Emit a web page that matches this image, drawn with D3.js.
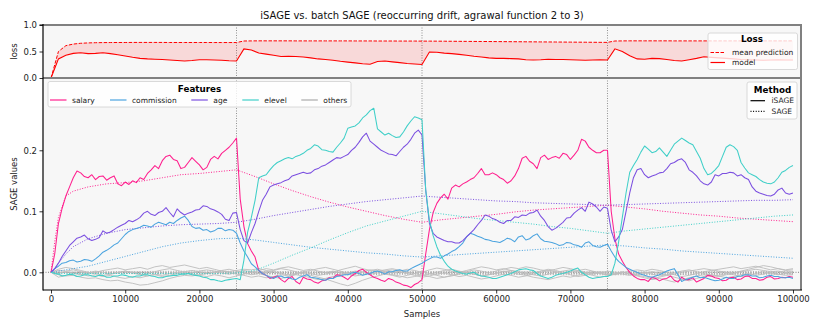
<!DOCTYPE html>
<html><head><meta charset="utf-8">
<script src="https://cdn.jsdelivr.net/npm/d3@7"></script>
<style>body{margin:0;background:#fff} svg{display:block} text{font-family:"DejaVu Sans",sans-serif}</style>
</head><body><svg id="c" width="822" height="329"></svg>
<script>
// ---------- DATA ----------
const samples = d3.range(0, 100001, 1000);      // loss + "others" grid
const samplesFine = d3.range(0, 100001, 500);   // iSAGE feature grid
const drifts = [25000, 50000, 75000];
const xTicks = [0,10000,20000,30000,40000,50000,60000,70000,80000,90000,100000];
const lossTicks = [0, 0.5, 1.0];
const sageTicks = [0, 0.1, 0.2];
const featureNames = ["salary","commission","age","elevel","others"];
const featureColors = ["#ff1f8e","#4aa3df","#7b4fe0","#3fcfc8","#a9a9a9"];

const lossMean = [
 0,0.5,0.61,0.64,0.655,0.662,0.666,0.668,0.669,0.67,
 0.67,0.671,0.671,0.671,0.671,0.671,0.67,0.67,0.67,0.67,
 0.67,0.67,0.669,0.669,0.669,0.669,0.698,0.7,0.701,0.701,
 0.701,0.701,0.701,0.7,0.7,0.7,0.7,0.7,0.7,0.7,
 0.7,0.699,0.699,0.699,0.698,0.698,0.698,0.697,0.697,0.697,
 0.696,0.696,0.695,0.694,0.693,0.692,0.691,0.69,0.689,0.688,
 0.687,0.686,0.685,0.684,0.683,0.682,0.681,0.68,0.679,0.678,
 0.677,0.676,0.675,0.674,0.673,0.672,0.698,0.7,0.701,0.701,
 0.701,0.701,0.701,0.701,0.7,0.7,0.7,0.7,0.7,0.7,
 0.7,0.7,0.7,0.7,0.7,0.7,0.7,0.7,0.7,0.7,
 0.7];
const lossModel = [
 0,0.36,0.43,0.465,0.475,0.46,0.465,0.475,0.46,0.44,
 0.415,0.39,0.37,0.36,0.355,0.35,0.34,0.33,0.32,0.33,
 0.345,0.345,0.34,0.335,0.325,0.32,0.55,0.53,0.47,0.45,
 0.43,0.405,0.41,0.405,0.395,0.38,0.36,0.35,0.335,0.315,
 0.3,0.285,0.27,0.26,0.31,0.32,0.305,0.29,0.275,0.265,
 0.255,0.49,0.485,0.47,0.46,0.445,0.43,0.41,0.395,0.38,
 0.37,0.37,0.365,0.36,0.345,0.34,0.345,0.355,0.35,0.35,
 0.345,0.34,0.335,0.34,0.345,0.34,0.55,0.5,0.42,0.36,
 0.355,0.37,0.365,0.35,0.33,0.32,0.345,0.37,0.4,0.39,
 0.38,0.37,0.36,0.35,0.345,0.34,0.335,0.34,0.345,0.34,
 0.34];

// iSAGE values, every 500 samples (rows of 20 = 10000 samples)
const salary = [
 0,0.03,0.08,0.105,0.125,0.14,0.155,0.166,0.163,0.157,0.155,0.16,0.152,0.157,0.158,0.151,0.155,0.158,0.145,0.142,
 0.148,0.144,0.15,0.147,0.155,0.152,0.162,0.168,0.175,0.17,0.183,0.19,0.192,0.185,0.183,0.17,0.172,0.18,0.188,0.182,
 0.176,0.168,0.172,0.185,0.19,0.186,0.195,0.2,0.205,0.212,0.22,0.12,0.075,0.047,0.035,0.025,0.003,-0.002,-0.005,-0.01,
 -0.008,-0.006,-0.012,-0.016,-0.01,-0.007,-0.015,-0.019,-0.008,-0.011,-0.012,-0.016,-0.018,-0.014,-0.013,-0.009,-0.01,-0.004,-0.005,-0.008,
 -0.012,-0.006,-0.002,0.003,0.005,0.0,-0.004,-0.008,-0.01,-0.013,-0.015,-0.01,-0.012,-0.016,-0.018,-0.021,-0.022,-0.025,-0.02,-0.017,
 -0.012,0.03,0.07,0.098,0.113,0.122,0.128,0.12,0.138,0.143,0.14,0.145,0.148,0.152,0.155,0.162,0.17,0.16,0.16,0.163,
 0.16,0.155,0.152,0.146,0.15,0.158,0.17,0.187,0.19,0.182,0.178,0.17,0.188,0.192,0.185,0.188,0.19,0.187,0.195,0.193,
 0.185,0.192,0.2,0.218,0.215,0.205,0.2,0.196,0.196,0.2,0.2,0.1,0.055,0.03,0.018,0.008,0.0,-0.006,-0.01,-0.012,
 -0.012,-0.015,-0.008,-0.01,-0.014,-0.011,-0.01,-0.006,-0.013,-0.016,-0.008,-0.012,-0.012,-0.009,-0.016,-0.013,-0.01,-0.005,-0.006,-0.009,
 -0.01,-0.014,-0.013,-0.009,-0.008,-0.012,-0.011,-0.007,-0.006,-0.01,-0.01,-0.013,-0.012,-0.008,-0.007,-0.011,-0.01,-0.008,-0.009,-0.007,
 -0.008];
const commission = [
 0,0.006,0.01,0.015,0.016,0.019,0.02,0.017,0.018,0.021,0.02,0.018,0.022,0.027,0.033,0.036,0.04,0.045,0.048,0.055,
 0.062,0.067,0.07,0.072,0.074,0.077,0.076,0.074,0.079,0.082,0.08,0.078,0.082,0.08,0.085,0.089,0.092,0.085,0.075,0.072,
 0.073,0.069,0.07,0.066,0.068,0.072,0.072,0.068,0.07,0.069,0.064,0.048,0.035,0.025,0.014,0.009,0.003,-0.002,-0.005,-0.008,
 -0.01,-0.007,-0.006,-0.009,-0.008,-0.011,-0.012,-0.008,-0.006,-0.004,-0.008,-0.009,-0.01,-0.012,-0.013,-0.01,-0.01,-0.007,-0.006,-0.004,
 -0.004,-0.001,0.0,-0.002,-0.005,-0.003,-0.002,0.001,0.002,0.0,-0.003,0.001,0.001,0.003,0.004,0.002,0.002,0.006,0.009,0.012,
 0.015,0.019,0.022,0.025,0.025,0.023,0.027,0.03,0.034,0.037,0.042,0.048,0.058,0.064,0.062,0.059,0.057,0.054,0.053,0.051,
 0.05,0.049,0.052,0.056,0.054,0.05,0.058,0.06,0.053,0.055,0.06,0.063,0.055,0.051,0.05,0.049,0.047,0.044,0.045,0.049,
 0.048,0.045,0.044,0.041,0.048,0.05,0.044,0.042,0.041,0.044,0.046,0.035,0.025,0.018,0.013,0.008,0.005,0.002,0.0,-0.003,
 -0.005,-0.007,-0.008,-0.006,-0.004,-0.001,0.002,0.004,0.006,-0.004,-0.015,-0.012,-0.01,-0.008,-0.006,-0.009,-0.008,-0.01,-0.012,-0.014,
 -0.013,-0.011,-0.008,-0.01,-0.01,-0.007,-0.006,-0.004,-0.004,-0.006,-0.006,-0.009,-0.008,-0.006,-0.005,-0.007,-0.007,-0.009,-0.009,-0.008,
 -0.01];
const age = [
 0,0.006,0.015,0.026,0.035,0.044,0.05,0.056,0.058,0.061,0.055,0.052,0.054,0.057,0.068,0.064,0.066,0.07,0.074,0.077,
 0.08,0.085,0.083,0.086,0.09,0.097,0.1,0.095,0.093,0.098,0.1,0.106,0.098,0.091,0.104,0.098,0.094,0.097,0.099,0.102,
 0.103,0.109,0.108,0.104,0.102,0.099,0.095,0.087,0.085,0.097,0.098,0.07,0.052,0.048,0.065,0.08,0.1,0.118,0.128,0.14,
 0.143,0.145,0.147,0.15,0.152,0.158,0.16,0.162,0.164,0.162,0.163,0.168,0.17,0.174,0.176,0.18,0.184,0.188,0.187,0.19,
 0.193,0.2,0.205,0.213,0.222,0.228,0.215,0.21,0.205,0.2,0.197,0.194,0.193,0.191,0.198,0.205,0.21,0.218,0.228,0.233,
 0.225,0.135,0.08,0.064,0.058,0.055,0.052,0.05,0.05,0.048,0.048,0.052,0.058,0.064,0.07,0.078,0.085,0.094,0.092,0.088,
 0.086,0.082,0.08,0.085,0.085,0.091,0.09,0.094,0.093,0.097,0.098,0.102,0.092,0.085,0.075,0.069,0.072,0.077,0.082,0.089,
 0.09,0.097,0.102,0.106,0.1,0.115,0.112,0.107,0.1,0.107,0.105,0.069,0.05,0.058,0.07,0.1,0.13,0.155,0.168,0.17,
 0.16,0.155,0.158,0.16,0.163,0.164,0.17,0.178,0.18,0.184,0.186,0.18,0.168,0.164,0.158,0.15,0.145,0.143,0.148,0.16,
 0.158,0.162,0.162,0.164,0.163,0.158,0.16,0.155,0.152,0.14,0.133,0.13,0.128,0.126,0.125,0.128,0.135,0.138,0.13,0.128,
 0.13];
const elevel = [
 0,-0.002,-0.003,-0.006,-0.005,-0.003,-0.004,-0.007,-0.006,-0.004,-0.004,-0.006,-0.007,-0.005,-0.005,-0.008,-0.008,-0.006,-0.006,-0.004,
 -0.005,-0.007,-0.008,-0.006,-0.006,-0.004,-0.004,-0.006,-0.007,-0.009,-0.009,-0.007,-0.006,-0.005,-0.005,-0.003,-0.003,-0.002,-0.004,-0.005,
 -0.006,-0.008,-0.009,-0.012,-0.012,-0.014,-0.015,-0.013,-0.012,-0.011,-0.01,-0.012,0.02,0.066,0.09,0.118,0.155,0.158,0.16,0.168,
 0.175,0.18,0.183,0.186,0.188,0.186,0.19,0.192,0.195,0.2,0.203,0.209,0.207,0.201,0.2,0.198,0.197,0.205,0.212,0.22,
 0.236,0.238,0.24,0.245,0.253,0.258,0.265,0.269,0.235,0.23,0.225,0.228,0.224,0.221,0.222,0.23,0.24,0.248,0.255,0.253,
 0.25,0.135,0.085,0.06,0.042,0.028,0.018,0.01,0.005,0.002,0.0,-0.002,-0.003,-0.001,0.0,-0.004,-0.006,-0.007,-0.008,-0.01,
 -0.01,-0.008,-0.006,-0.004,-0.002,0.001,0.004,0.005,0.006,0.004,0.003,-0.002,-0.006,-0.008,-0.01,-0.008,-0.005,-0.003,-0.002,0.0,
 0.002,0.005,0.007,0.0,-0.004,-0.008,-0.01,-0.009,-0.008,-0.007,-0.007,-0.004,0.015,0.05,0.09,0.13,0.164,0.175,0.185,0.197,
 0.207,0.202,0.196,0.198,0.204,0.197,0.19,0.2,0.21,0.215,0.22,0.216,0.212,0.209,0.198,0.187,0.17,0.16,0.162,0.168,
 0.175,0.19,0.205,0.209,0.206,0.2,0.18,0.171,0.163,0.16,0.157,0.152,0.148,0.146,0.145,0.148,0.155,0.164,0.167,0.172,
 0.175];
const other1 = [
 0,-0.004,-0.006,-0.005,-0.008,-0.01,-0.009,-0.012,-0.014,-0.013,
 -0.016,-0.018,-0.021,-0.02,-0.017,-0.014,-0.01,-0.007,-0.005,-0.006,
 -0.004,-0.002,0.0,0.002,0.001,0.003,0.005,0.004,0.006,0.003,
 0.001,-0.002,-0.004,-0.002,0.001,0.003,0.006,0.008,0.005,0.002,
 -0.003,-0.006,-0.004,-0.001,0.002,0.004,0.006,0.003,0.0,-0.002,
 -0.005,-0.003,0.0,0.003,0.005,0.002,-0.001,-0.003,-0.006,-0.004,
 -0.002,0.001,0.003,0.001,-0.002,-0.004,-0.006,-0.003,0.0,0.002,
 0.004,0.001,-0.002,-0.005,-0.008,-0.006,-0.003,0.0,-0.002,-0.005,
 -0.007,-0.01,-0.008,-0.005,-0.003,0.0,0.002,0.004,0.006,0.004,
 0.002,0.0,-0.002,0.001,0.003,0.005,0.003,0.001,0.002,0.0,
 0.001];
const other2 = [
 0,0.003,0.002,0.004,0.001,-0.002,0.0,0.003,0.005,0.007,
 0.004,0.006,0.008,0.005,0.009,0.011,0.008,0.01,0.012,0.009,
 0.006,0.008,0.005,0.002,0.0,-0.003,-0.005,-0.008,-0.006,-0.009,
 -0.007,-0.004,-0.006,-0.003,0.0,-0.002,-0.005,-0.003,0.0,0.004,
 0.007,0.01,0.006,0.003,0.005,0.002,-0.001,0.002,0.005,0.003,
 0.0,0.004,0.007,0.005,0.002,0.0,0.003,0.006,0.009,0.007,
 0.004,0.006,0.003,0.0,-0.003,-0.001,0.002,0.005,0.003,0.0,
 -0.004,-0.007,-0.005,-0.002,0.001,-0.002,-0.004,-0.001,0.002,0.004,
 0.002,0.005,0.003,0.0,-0.004,-0.007,-0.005,-0.002,0.001,0.003,
 0.005,0.007,0.009,0.006,0.008,0.01,0.007,0.004,0.006,0.003,
 0.004];
const other3 = [
 0,-0.008,-0.005,-0.002,-0.004,-0.001,0.002,0.0,-0.003,-0.001,
 0.002,0.0,-0.003,-0.006,-0.004,-0.007,-0.005,-0.002,0.001,0.003,
 0.001,-0.002,0.0,0.003,0.005,0.002,-0.001,-0.004,-0.002,0.001,
 0.003,0.006,0.004,0.001,-0.002,-0.005,-0.008,-0.011,-0.015,-0.019,
 -0.022,-0.018,-0.013,-0.009,-0.006,-0.003,-0.005,-0.008,-0.005,-0.002,
 0.001,-0.002,-0.005,-0.008,-0.006,-0.003,0.0,-0.003,-0.006,-0.004,
 -0.001,0.002,0.0,-0.003,-0.005,-0.008,-0.01,-0.012,-0.009,-0.006,
 -0.008,-0.005,-0.002,0.001,-0.002,-0.005,-0.003,0.0,-0.003,-0.006,
 -0.009,-0.012,-0.01,-0.013,-0.016,-0.012,-0.009,-0.006,-0.004,-0.007,
 -0.005,-0.002,-0.004,-0.007,-0.005,-0.002,0.001,-0.002,-0.004,-0.002,
 -0.003];
const other4 = [
 0,0.005,0.008,0.006,0.003,0.0,-0.002,-0.005,-0.003,0.0,
 0.002,-0.001,-0.004,-0.002,0.001,0.004,0.006,0.003,0.0,-0.003,
 -0.005,-0.007,-0.004,-0.006,-0.009,-0.006,-0.003,0.0,0.003,0.006,
 0.004,0.007,0.009,0.006,0.003,0.005,0.002,-0.001,0.002,-0.001,
 -0.004,-0.002,0.001,0.004,0.002,-0.001,-0.004,-0.006,-0.009,-0.007,
 -0.004,-0.007,-0.01,-0.008,-0.005,-0.002,0.001,0.004,0.002,-0.001,
 0.002,0.005,0.008,0.006,0.009,0.007,0.004,0.002,0.005,0.008,
 0.006,0.003,0.0,-0.003,-0.001,0.002,0.0,-0.003,-0.005,-0.002,
 0.0,-0.003,-0.006,-0.004,-0.001,0.002,0.004,0.001,-0.002,-0.005,
 -0.007,-0.004,-0.001,0.002,0.005,0.008,0.011,0.009,0.006,0.004,
 0.006];
const other5 = [
 0,-0.002,0.001,-0.001,-0.003,-0.006,-0.004,-0.007,-0.005,-0.008,
 -0.01,-0.007,-0.009,-0.006,-0.003,-0.005,-0.002,0.0,-0.003,-0.001,
 0.002,0.004,0.002,-0.001,-0.003,0.0,0.003,0.001,-0.002,-0.005,
 -0.008,-0.01,-0.007,-0.004,-0.006,-0.009,-0.012,-0.01,-0.007,-0.004,
 -0.001,0.002,0.0,-0.003,-0.001,0.002,0.004,0.001,-0.002,-0.005,
 -0.008,-0.006,-0.003,-0.001,-0.004,-0.007,-0.005,-0.008,-0.011,-0.009,
 -0.006,-0.003,-0.005,-0.008,-0.006,-0.003,0.0,0.003,0.001,-0.002,
 0.0,0.003,0.005,0.002,-0.001,-0.004,-0.002,0.001,-0.002,-0.004,
 -0.002,0.001,-0.002,-0.005,-0.008,-0.011,-0.014,-0.01,-0.007,-0.004,
 -0.006,-0.009,-0.007,-0.004,-0.002,-0.005,-0.003,0.0,-0.003,-0.005,
 -0.004];

// batch SAGE (dotted)
const sageSamples = [0,500,1000,2000,3000,5000,7500,10000,12500,15000,17500,20000,22500,25000,
 27500,30000,32500,35000,37500,40000,42500,45000,47500,50000,52500,55000,57500,60000,62500,65000,
 67500,70000,72500,75000,77500,80000,82500,85000,87500,90000,92500,95000,97500,100000];
const sageSalary = [0,0.05,0.09,0.125,0.133,0.14,0.145,0.147,0.15,0.155,0.16,0.162,0.165,0.168,
 0.157,0.145,0.134,0.124,0.115,0.107,0.1,0.093,0.087,0.082,0.086,0.089,0.092,0.095,0.099,0.102,
 0.104,0.106,0.108,0.11,0.107,0.104,0.1,0.097,0.094,0.092,0.089,0.087,0.085,0.083];
const sageCommission = [0,0,0.002,0.004,0.006,0.01,0.018,0.026,0.034,0.042,0.048,0.052,0.055,0.056,
 0.053,0.049,0.045,0.041,0.038,0.035,0.032,0.03,0.027,0.025,0.027,0.029,0.031,0.033,0.035,0.037,
 0.039,0.041,0.043,0.045,0.043,0.04,0.038,0.035,0.033,0.031,0.029,0.027,0.025,0.023];
const sageAge = [0,0.005,0.015,0.03,0.042,0.055,0.064,0.07,0.073,0.076,0.078,0.079,0.08,0.082,
 0.087,0.093,0.098,0.103,0.108,0.112,0.116,0.119,0.122,0.125,0.123,0.121,0.119,0.117,0.116,0.114,
 0.113,0.112,0.111,0.11,0.111,0.112,0.113,0.114,0.115,0.116,0.117,0.118,0.118,0.119];
const sageElevel = [0,-0.001,-0.002,-0.002,-0.002,-0.002,-0.002,-0.002,-0.002,-0.002,-0.002,-0.002,-0.002,-0.001,
 0.003,0.015,0.028,0.04,0.053,0.065,0.076,0.084,0.092,0.1,0.096,0.092,0.088,0.085,0.082,0.079,
 0.075,0.072,0.068,0.064,0.068,0.071,0.074,0.077,0.08,0.083,0.086,0.089,0.092,0.094];
const sageOtherSamples = [0,10000,20000,30000,40000,50000,60000,70000,80000,90000,100000];
const sageOther1 = [0,-0.002,-0.003,-0.002,-0.002,-0.001,-0.002,-0.002,-0.003,-0.002,-0.002];
const sageOther2 = [0,0.001,0.002,0.001,0.0,0.001,0.001,0.0,0.0,0.001,0.001];
const sageOther3 = [0,-0.001,-0.001,-0.003,-0.004,-0.003,-0.003,-0.004,-0.004,-0.003,-0.003];
const sageOther4 = [0,0.0,-0.001,0.0,0.001,0.0,0.0,0.001,0.0,0.0,0.0];
const sageOther5 = [0,-0.002,-0.001,-0.002,-0.001,-0.002,-0.003,-0.002,-0.002,-0.003,-0.002];

// ---------- CHART ----------
const svg = d3.select("#c");
const L = 43, R = 801, T0 = 25, T1 = 78, B0 = 78, B1 = 290;
const x = d3.scaleLinear().domain([-1080, 101080]).range([L, R]);
const yT = d3.scaleLinear().domain([0, 1]).range([T1, T0]);
const yB = d3.scaleLinear().domain([-0.029, 0.3185]).range([B1, B0]);

svg.append("rect").attr("x", L).attr("y", T0).attr("width", R - L).attr("height", B1 - T0).attr("fill", "#f7f7f7");

const defs = svg.append("defs");
defs.append("clipPath").attr("id", "cT").append("rect").attr("x", L).attr("y", T0).attr("width", R - L).attr("height", T1 - T0);
defs.append("clipPath").attr("id", "cB").append("rect").attr("x", L).attr("y", B0).attr("width", R - L).attr("height", B1 - B0);

const gT = svg.append("g").attr("clip-path", "url(#cT)");
const gB = svg.append("g").attr("clip-path", "url(#cB)");

// drift lines
[[gT, T0, T1], [gB, B0, B1]].forEach(([g, a, b]) => {
  g.selectAll(null).data(drifts).join("line")
    .attr("x1", d => x(d)).attr("x2", d => x(d)).attr("y1", a).attr("y2", b)
    .attr("stroke", "#777").attr("stroke-width", 0.8).attr("stroke-dasharray", "1,1.5");
});

// loss panel
const lossRows = samples.map((s, i) => ({s, m: lossModel[i], p: lossMean[i]}));
gT.append("path").datum(lossRows)
  .attr("d", d3.area().x(d => x(d.s)).y0(d => yT(d.m)).y1(d => yT(d.p)))
  .attr("fill", "#ff0000").attr("fill-opacity", 0.12);
gT.append("path").datum(lossRows)
  .attr("d", d3.line().x(d => x(d.s)).y(d => yT(d.p)))
  .attr("fill", "none").attr("stroke", "#ff0000").attr("stroke-width", 1).attr("stroke-dasharray", "3.5,1.5");
gT.append("path").datum(lossRows)
  .attr("d", d3.line().x(d => x(d.s)).y(d => yT(d.m)))
  .attr("fill", "none").attr("stroke", "#ff0000").attr("stroke-width", 1.1);

// zero line
gB.append("line").attr("x1", L).attr("x2", R).attr("y1", yB(0)).attr("y2", yB(0))
  .attr("stroke", "#666").attr("stroke-width", 0.8).attr("stroke-dasharray", "1,1.5");

const lineB = (xs) => d3.line().x((d, i) => x(xs[i])).y(d => yB(d));

// others (gray)
[sageOther1, sageOther2, sageOther3, sageOther4, sageOther5].forEach(arr => {
  gB.append("path").attr("d", lineB(sageOtherSamples)(arr)).attr("fill", "none")
    .attr("stroke", featureColors[4]).attr("stroke-width", 1).attr("stroke-dasharray", "1,1.6");
});
[other1, other2, other3, other4, other5].forEach(arr => {
  gB.append("path").attr("d", lineB(samples)(arr)).attr("fill", "none")
    .attr("stroke", "#bdbdbd").attr("stroke-width", 1).attr("stroke-opacity", 0.9);
});

// SAGE dotted
[sageSalary, sageCommission, sageAge, sageElevel].forEach((arr, k) => {
  gB.append("path").attr("d", lineB(sageSamples)(arr)).attr("fill", "none")
    .attr("stroke", featureColors[k]).attr("stroke-width", 1).attr("stroke-dasharray", "1,1.6");
});
// iSAGE solid
[salary, commission, age, elevel].forEach((arr, k) => {
  gB.append("path").attr("d", lineB(samplesFine)(arr)).attr("fill", "none")
    .attr("stroke", featureColors[k]).attr("stroke-width", 1.05).attr("stroke-linejoin", "round");
});

// spines
svg.append("line").attr("x1", L - 3.5).attr("x2", R + 1).attr("y1", T0).attr("y2", T0).attr("stroke", "#808080").attr("stroke-width", 2);
svg.append("line").attr("x1", L).attr("x2", R + 1).attr("y1", T1).attr("y2", T1).attr("stroke", "#808080").attr("stroke-width", 2);
svg.append("line").attr("x1", R).attr("x2", R).attr("y1", T0).attr("y2", B1).attr("stroke", "#808080").attr("stroke-width", 2);
svg.append("line").attr("x1", L).attr("x2", L).attr("y1", T0 - 1).attr("y2", B1 + 0.6).attr("stroke", "#000").attr("stroke-width", 1.2);
svg.append("line").attr("x1", L).attr("x2", R + 1).attr("y1", B1).attr("y2", B1).attr("stroke", "#000").attr("stroke-width", 1.2);

// axes
function styleAxis(g) {
  g.select(".domain").remove();
  g.selectAll(".tick line").attr("stroke", "#000").attr("stroke-width", 0.8);
  g.selectAll(".tick text").attr("font-size", "8.5px").attr("fill", "#222").attr("font-family", "DejaVu Sans");
}
svg.append("g").attr("transform", `translate(${L},0)`)
  .call(d3.axisLeft(yT).tickValues(lossTicks).tickFormat(d3.format(".1f")).tickSize(3.5).tickPadding(2.5)).call(styleAxis);
svg.append("g").attr("transform", `translate(${L},0)`)
  .call(d3.axisLeft(yB).tickValues(sageTicks).tickFormat(d3.format(".1f")).tickSize(3.5).tickPadding(2.5)).call(styleAxis);
svg.append("g").attr("transform", `translate(0,${B1})`)
  .call(d3.axisBottom(x).tickValues(xTicks).tickFormat(d3.format("d")).tickSize(3.5).tickPadding(2)).call(styleAxis);

// labels
svg.append("text").attr("x", 422).attr("y", 18.5).attr("text-anchor", "middle").attr("font-size", "10px").attr("fill", "#111")
  .text("iSAGE vs. batch SAGE (reoccurring drift, agrawal function 2 to 3)");
svg.append("text").attr("transform", "translate(17,51.5) rotate(-90)").attr("text-anchor", "middle").attr("font-size", "8.5px").attr("fill", "#222").text("loss");
svg.append("text").attr("transform", "translate(17,184) rotate(-90)").attr("text-anchor", "middle").attr("font-size", "8.5px").attr("fill", "#222").text("SAGE values");
svg.append("text").attr("x", 422).attr("y", 316.5).attr("text-anchor", "middle").attr("font-size", "8.5px").attr("fill", "#222").text("Samples");

// legends
function box(x0, y0, w, h) {
  svg.append("rect").attr("x", x0).attr("y", y0).attr("width", w).attr("height", h).attr("rx", 2)
    .attr("fill", "#fff").attr("fill-opacity", 0.8).attr("stroke", "#d0d0d0").attr("stroke-width", 0.8);
}
// Loss legend
box(708, 33, 89.5, 36.5);
svg.append("text").attr("x", 752).attr("y", 41.8).attr("text-anchor", "middle").attr("font-size", "8.75px").attr("font-weight", "bold").text("Loss");
const lossLeg = [{name: "mean prediction", dash: "3.5,1.5", y: 52.5}, {name: "model", dash: null, y: 62.5}];
lossLeg.forEach(e => {
  svg.append("line").attr("x1", 710.5).attr("x2", 725).attr("y1", e.y).attr("y2", e.y).attr("stroke", "#ff0000")
    .attr("stroke-width", 1.2).attr("stroke-dasharray", e.dash);
  svg.append("text").attr("x", 732).attr("y", e.y + 2.6).attr("font-size", "7.5px").attr("fill", "#222").text(e.name);
});
// Features legend
box(48, 81.5, 303, 25.5);
svg.append("text").attr("x", 199.5).attr("y", 91.5).attr("text-anchor", "middle").attr("font-size", "8.75px").attr("font-weight", "bold").text("Features");
const featTextX = [72, 132, 213.3, 264.3, 323.3];
featureNames.forEach((n, k) => {
  svg.append("line").attr("x1", featTextX[k] - 22).attr("x2", featTextX[k] - 5.5).attr("y1", 100).attr("y2", 100)
    .attr("stroke", featureColors[k]).attr("stroke-width", 1.2);
  svg.append("text").attr("x", featTextX[k]).attr("y", 102.6).attr("font-size", "7.5px").attr("fill", "#222").text(n);
});
// Method legend
box(747, 82, 50, 37);
svg.append("text").attr("x", 772.5).attr("y", 92.5).attr("text-anchor", "middle").attr("font-size", "8.75px").attr("font-weight", "bold").text("Method");
const methods = [{name: "iSAGE", dash: null, y: 100.7}, {name: "SAGE", dash: "1,1.6", y: 111.3}];
methods.forEach(e => {
  svg.append("line").attr("x1", 750.5).attr("x2", 765).attr("y1", e.y).attr("y2", e.y).attr("stroke", "#000")
    .attr("stroke-width", 1.2).attr("stroke-dasharray", e.dash);
  svg.append("text").attr("x", 771.5).attr("y", e.y + 2.6).attr("font-size", "7.5px").attr("fill", "#222").text(e.name);
});
</script></body></html>
